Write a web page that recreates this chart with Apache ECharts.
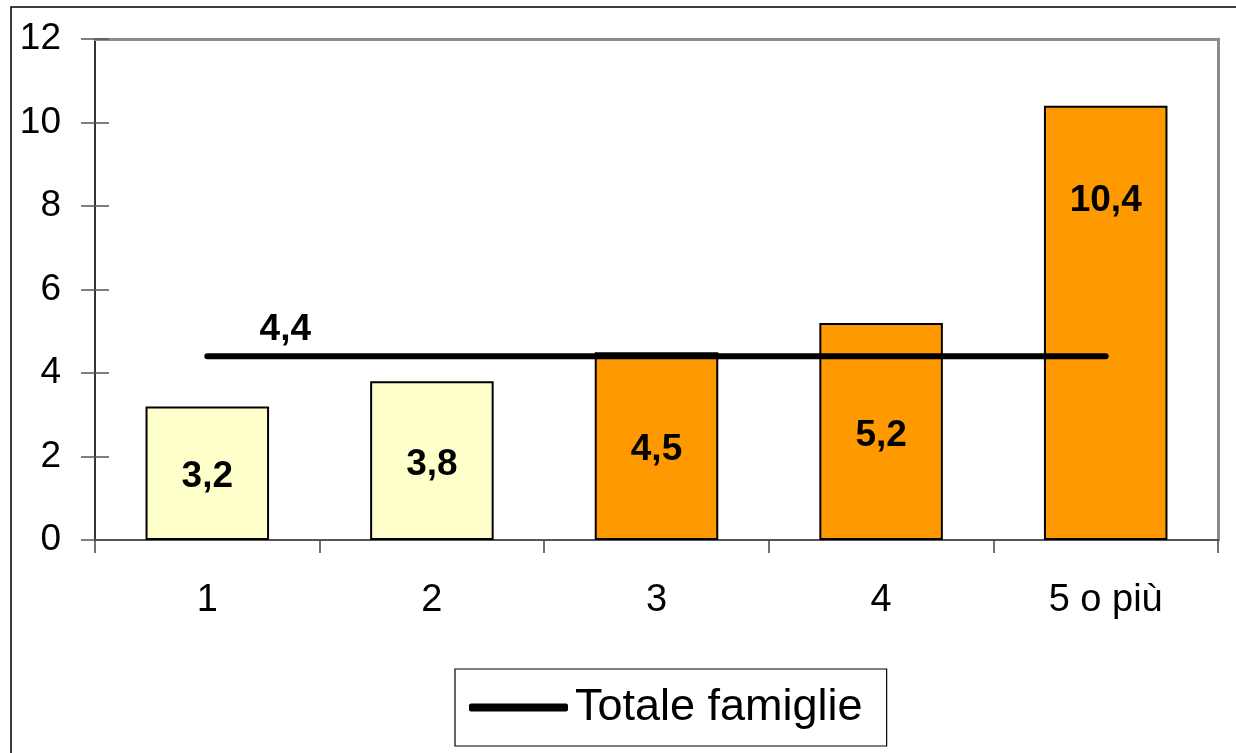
<!DOCTYPE html>
<html>
<head>
<meta charset="utf-8">
<script src="https://cdn.jsdelivr.net/npm/echarts@6/dist/echarts.min.js"></script>
<style>
  html, body { margin: 0; padding: 0; background: #fff; }
  #chart { width: 1236px; height: 753px; }
</style>
</head>
<body>
<div id="chart"></div>
<script>
// Numero di componenti della famiglia
const categories = ['1', '2', '3', '4', '5 o più'];
// Valori per classe di ampiezza familiare
const barValues = [3.2, 3.8, 4.5, 5.2, 10.4];
// Valore medio sul totale delle famiglie
const totalValues = [4.4, 4.4, 4.4, 4.4, 4.4];
const totalName = 'Totale famiglie';
const yTicks = { min: 0, max: 12, interval: 2 };

const FONT = '"Liberation Sans", Arial, sans-serif';
const LIGHT = '#FFFFCC';
const ORANGE = '#FF9900';
const fmt = v => v.toFixed(1).replace('.', ',');

const barData = barValues.map((v, i) => {
  const item = { value: v };
  if (i === barValues.length - 1) {
    item.label = { position: ['50%', 95], align: 'center', verticalAlign: 'middle', offset: [0, 0] };
  }
  return item;
});

const lineData = totalValues.map((v, i) => {
  const item = { value: v };
  if (i === 0) {
    item.label = {
      show: true, position: 'top', offset: [78, -3],
      fontFamily: FONT, fontSize: 37, fontWeight: 'bold', color: '#000',
      formatter: p => fmt(p.value)
    };
  }
  return item;
});

const chart = echarts.init(document.getElementById('chart'), null, { renderer: 'canvas' });
chart.setOption({
  animation: false,
  backgroundColor: '#fff',
  graphic: [{
    type: 'rect', silent: true, z: -1,
    shape: { x: 11, y: 7, width: 1400, height: 900 },
    style: { fill: 'none', stroke: '#000', lineWidth: 1.5 }
  }],
  grid: { left: 95, right: 18, top: 39, bottom: 213, containLabel: false },
  legend: {
    data: [totalName],
    left: 455, top: 669,
    padding: [16, 24, 16, 14],
    borderColor: '#000', borderWidth: 1.2,
    itemWidth: 99, itemHeight: 8,
    icon: 'roundRect',
    itemStyle: { color: '#000' },
    textStyle: { fontFamily: FONT, fontSize: 45, color: '#000', padding: [0, 0, 0, 2] }
  },
  xAxis: [{
    type: 'category',
    data: categories,
    boundaryGap: true,
    axisLine: { lineStyle: { color: '#555', width: 2 } },
    axisTick: { show: true, length: 13, lineStyle: { color: '#444', width: 1.5 } },
    axisLabel: { fontFamily: FONT, fontSize: 38, color: '#000', margin: 42 }
  }, {
    type: 'category',
    data: categories,
    position: 'top',
    axisLine: { show: true, onZero: false, lineStyle: { color: '#8c8c8c', width: 3 } },
    axisTick: { show: false },
    axisLabel: { show: false }
  }],
  yAxis: [{
    type: 'value',
    min: yTicks.min, max: yTicks.max, interval: yTicks.interval,
    axisLine: { show: true, lineStyle: { color: '#000', width: 1.6 } },
    axisTick: { show: true, length: 14, lineStyle: { color: '#555', width: 1.5 } },
    splitLine: { show: false },
    axisLabel: { fontFamily: FONT, fontSize: 37, color: '#000', margin: 34 }
  }, {
    type: 'value',
    position: 'left',
    min: yTicks.min, max: yTicks.max, interval: yTicks.interval,
    axisLine: { show: false },
    axisTick: { show: true, inside: true, length: 14, lineStyle: { color: '#555', width: 1.5 } },
    splitLine: { show: false },
    axisLabel: { show: false }
  }, {
    type: 'value',
    position: 'right',
    min: yTicks.min, max: yTicks.max, interval: yTicks.interval,
    axisLine: { show: true, onZero: false, lineStyle: { color: '#8c8c8c', width: 3 } },
    axisTick: { show: false },
    splitLine: { show: false },
    axisLabel: { show: false }
  }],
  series: [{
    type: 'bar',
    data: barData,
    barWidth: '55%',
    itemStyle: {
      color: p => (p.dataIndex < 2 ? LIGHT : ORANGE),
      borderColor: '#000', borderWidth: 2
    },
    label: {
      show: true, position: 'inside', offset: [0, 4],
      fontFamily: FONT, fontSize: 37, fontWeight: 'bold', color: '#000',
      formatter: p => fmt(p.value)
    }
  }, {
    name: totalName,
    type: 'line',
    data: lineData,
    symbol: 'circle', symbolSize: 1,
    itemStyle: { color: '#000' },
    lineStyle: { color: '#000', width: 6, cap: 'round' },
    label: { show: false },
    z: 3
  }]
});
</script>
</body>
</html>
